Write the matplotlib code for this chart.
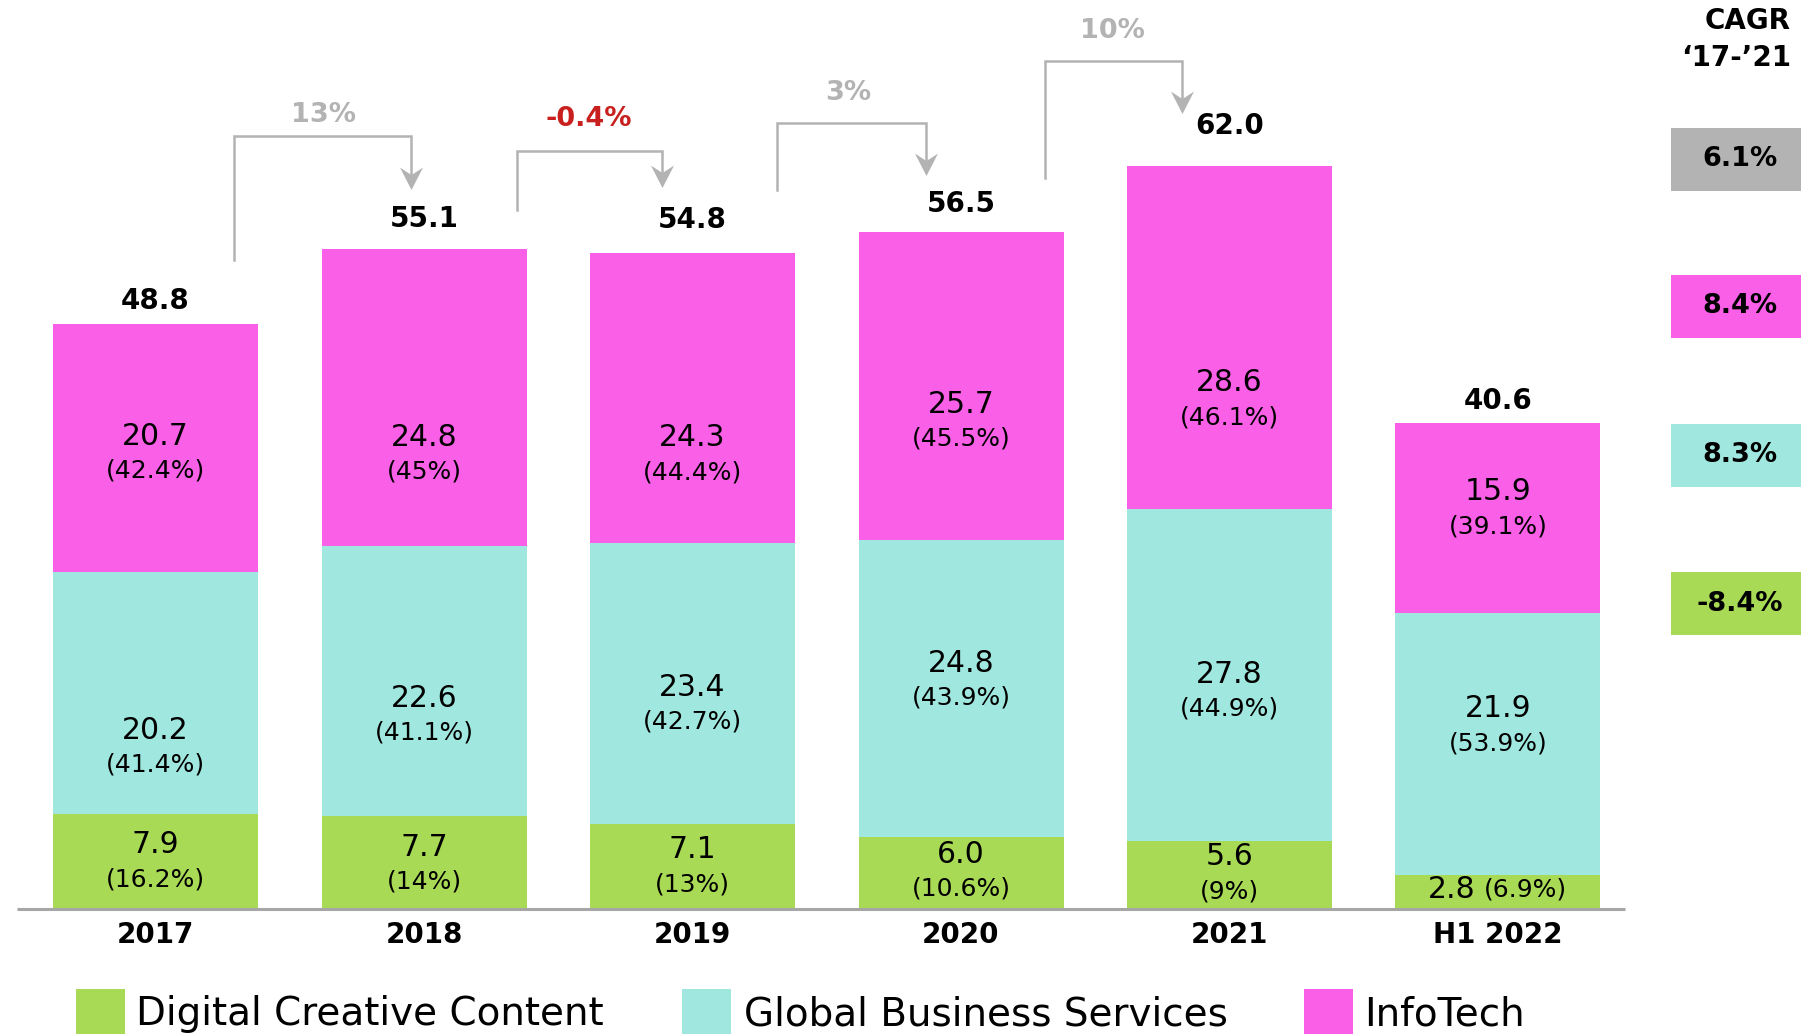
import matplotlib
matplotlib.use("Agg")
import matplotlib.pyplot as plt
import numpy as np
from matplotlib.patches import Rectangle
from matplotlib.path import Path

# ---------------- data ----------------
years = ["2017", "2018", "2019", "2020", "2021", "H1 2022"]
dcc = [7.9, 7.7, 7.1, 6.0, 5.6, 2.8]
gbs = [20.2, 22.6, 23.4, 24.8, 27.8, 21.9]
infotech = [20.7, 24.8, 24.3, 25.7, 28.6, 15.9]
totals = [48.8, 55.1, 54.8, 56.5, 62.0, 40.6]
dcc_pct = ["16.2%", "14%", "13%", "10.6%", "9%", "6.9%"]
gbs_pct = ["41.4%", "41.1%", "42.7%", "43.9%", "44.9%", "53.9%"]
it_pct = ["42.4%", "45%", "44.4%", "45.5%", "46.1%", "39.1%"]
growth = ["13%", "-0.4%", "3%", "10%"]
cagr_labels = ["6.1%", "8.4%", "8.3%", "-8.4%"]
series_names = ["Digital Creative Content", "Global Business Services", "InfoTech"]

# ---------------- style ----------------
GREEN = "#A8DA55"
CYAN = "#A0E8DF"
MAG = "#F95FE7"
GREY = "#B3B3B3"
RED = "#C8201E"
FONT = "DejaVu Sans"
plt.rcParams["font.family"] = [FONT]

W, H = 1801, 1034
X0, DX = 155.5, 268.5      # pixel of first bar centre, pixel spacing
Y0, DY = 908.5, 11.97      # pixel of baseline, pixels per unit


def px2x(px):
    return (px - X0) / DX


def px2y(py):
    return (Y0 - py) / DY


PT = 0.72  # points per pixel at 100 dpi

fig = plt.figure(figsize=(W / 100, H / 100), dpi=100)
ax = fig.add_axes([0, 0, 1, 1])
ax.set_xlim(px2x(0), px2x(W))
ax.set_ylim(px2y(H), px2y(0))
ax.axis("off")

x = np.arange(len(years))
bw = 205 / DX
d = np.array(dcc)
g = np.array(gbs)
it = np.array(infotech)
ax.bar(x, d, width=bw, color=GREEN, linewidth=0, zorder=2)
ax.bar(x, g, bottom=d, width=bw, color=CYAN, linewidth=0, zorder=2)
ax.bar(x, it, bottom=d + g, width=bw, color=MAG, linewidth=0, zorder=2)

# baseline
ax.plot([px2x(17), px2x(1625)], [0, 0], color="#A6A6A6", lw=2.2,
        solid_capstyle="butt", zorder=3)

# segment label offsets (pixels below segment centre, for the value line)
it_off = [-12, 40, 40, 18, 45, -26]
gbs_off = [37, 17, 4, -25, -1, -35]
dcc_off = [-16, -15, -16, -18, -18, 0]
tot_off = [23, 30, 33, 28, 40, 22]
PCT_GAP = 34.5

VAL_FS = 21.5
PCT_FS = 18


def seg_label(xi, yc, off, val, pct):
    ax.annotate(f"{val:.1f}", (xi, yc), xytext=(0, -off * PT),
                textcoords="offset points", ha="center", va="center",
                fontsize=VAL_FS, color="black", zorder=4)
    ax.annotate(f"({pct})", (xi, yc), xytext=(0, -(off + PCT_GAP) * PT),
                textcoords="offset points", ha="center", va="center",
                fontsize=PCT_FS, color="black", zorder=4)


for i in range(len(years)):
    seg_label(x[i], d[i] + g[i] + it[i] / 2, it_off[i], it[i], it_pct[i])
    seg_label(x[i], d[i] + g[i] / 2, gbs_off[i], g[i], gbs_pct[i])
    if i < len(years) - 1:
        seg_label(x[i], d[i] / 2, dcc_off[i] - PCT_GAP / 2 + 17, d[i], dcc_pct[i])
    else:
        ax.annotate(f"{d[i]:.1f}", (x[i], d[i] / 2), xytext=(-22 * PT, 2 * PT),
                    textcoords="offset points", ha="right", va="center",
                    fontsize=VAL_FS, zorder=4)
        ax.annotate(f"({dcc_pct[i]})", (x[i], d[i] / 2), xytext=(-14 * PT, 2 * PT),
                    textcoords="offset points", ha="left", va="center",
                    fontsize=PCT_FS, zorder=4)
    # totals
    ax.annotate(f"{totals[i]:.1f}", (x[i], totals[i]), xytext=(0, tot_off[i] * PT),
                textcoords="offset points", ha="center", va="center",
                fontsize=20, fontweight="bold", zorder=4)
    # year labels
    ax.text(x[i], px2y(935), years[i], ha="center", va="center",
            fontsize=20, fontweight="bold")

# growth brackets (pixel layout): left x, left bottom y, top y, right x, tip y, text x, text y
brackets = [
    (234, 260, 135.7, 410.5, 189, 323, 115.5),
    (517, 210, 150.7, 661.5, 187, 589, 118.8),
    (776.5, 189.5, 123, 926, 175, 848, 93),
    (1045, 178, 61, 1181.5, 113, 1112.5, 30.5),
]
growth_colors = [GREY, RED, GREY, GREY]
head = Path([(0, -1), (-1, 0.95), (0, 0.3), (1, 0.95), (0, -1)],
            [Path.MOVETO, Path.LINETO, Path.LINETO, Path.LINETO, Path.CLOSEPOLY])
for (lx, by, ty, rx, tip, tx, tyy), lab, col in zip(brackets, growth, growth_colors):
    ax.plot([px2x(lx), px2x(lx), px2x(rx), px2x(rx)],
            [px2y(by), px2y(ty), px2y(ty), px2y(tip - 12)],
            color=GREY, lw=1.8, solid_joinstyle="miter", zorder=3)
    ax.plot([px2x(rx)], [px2y(tip - 11.5)], marker=head, markersize=23 * PT,
            color=GREY, markeredgewidth=0, zorder=3)
    ax.text(px2x(tx), px2y(tyy), lab, ha="center", va="center",
            fontsize=19.5, fontweight="bold", color=col)

# CAGR column
ax.text(1791 / W, 1 - 20.7 / H, "CAGR", transform=ax.transAxes, ha="right",
        va="center", fontsize=20, fontweight="bold")
ax.text(1791 / W, 1 - 58 / H, "\u201817-\u201921", transform=ax.transAxes,
        ha="right", va="center", fontsize=20, fontweight="bold")
box_tops = [127.5, 274.5, 423.8, 572]
box_cols = [GREY, MAG, CYAN, GREEN]
for top, col, lab in zip(box_tops, box_cols, cagr_labels):
    ax.add_patch(Rectangle((1671 / W, 1 - (top + 63.2) / H), 130 / W, 63.2 / H,
                           transform=ax.transAxes, color=col, lw=0, clip_on=False))
    ax.text(1740 / W, 1 - (top + 31.6) / H, lab, transform=ax.transAxes,
            ha="center", va="center", fontsize=19.5, fontweight="bold")

# legend
leg_px = [(76, 135.5), (682, 744), (1304, 1364.5)]
for (px, tx), name, col in zip(leg_px, series_names, [GREEN, CYAN, MAG]):
    ax.add_patch(Rectangle((px / W, 0), 49 / W, (H - 989) / H,
                           transform=ax.transAxes, color=col, lw=0, clip_on=False))
    ax.text(tx / W, 1 - 1025 / H, name, transform=ax.transAxes, ha="left",
            va="baseline", fontsize=28, color="black")

fig.savefig("out.png", dpi=100)
